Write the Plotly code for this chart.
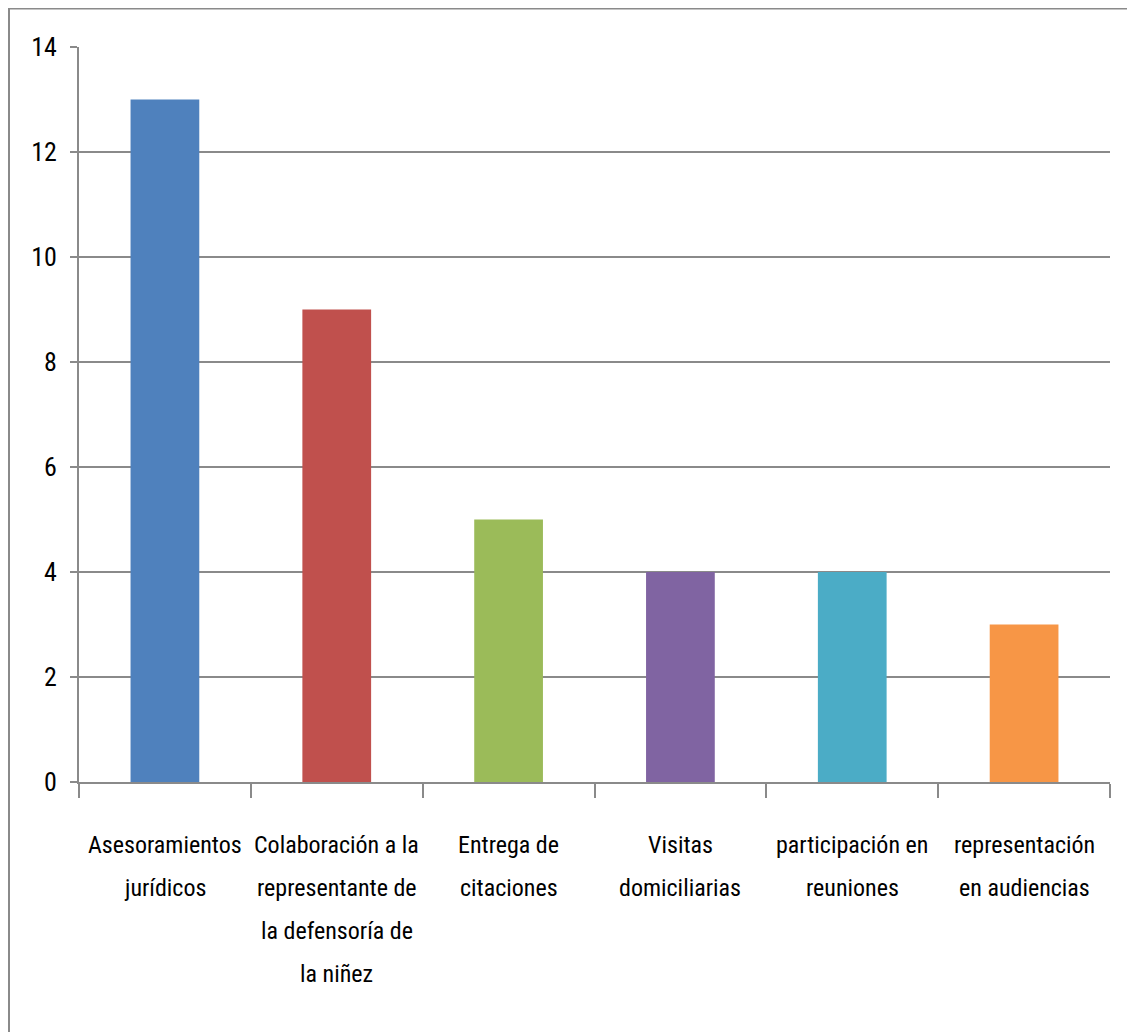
import plotly.graph_objects as go

categories = ["Asesoramientos jurídicos",
              "Colaboración a la representante de la defensoría de la niñez",
              "Entrega de citaciones",
              "Visitas domiciliarias",
              "participación en reuniones",
              "representación en audiencias"]
label_lines = [["Asesoramientos", "jurídicos"],
               ["Colaboración a la", "representante de", "la defensoría de", "la niñez"],
               ["Entrega de", "citaciones"],
               ["Visitas", "domiciliarias"],
               ["participación en", "reuniones"],
               ["representación", "en audiencias"]]
values = [13, 9, 5, 4, 4, 3]
bar_colors = ["#4F81BD", "#C0504D", "#9BBB59", "#8064A2", "#4BACC6", "#F79646"]
y_ticks = [0, 2, 4, 6, 8, 10, 12, 14]

FONT = "Liberation Sans Narrow, Roboto Condensed, DejaVu Sans Condensed, Liberation Sans, sans-serif"
GRAY = "#8a8a8a"

# the page adds an 8px body margin; plot area spans screen x 79..1110, y 47..782
L, T, R, B = 71, 39, 1135 - 1102, 1032 - 774
PW, PH = 1135 - L - R, 1032 - T - B

fig = go.Figure()
fig.add_trace(go.Bar(x=categories, y=values, marker=dict(color=bar_colors, line=dict(width=0)),
                     showlegend=False, hoverinfo="x+y"))

annotations = []
for cat, lines in zip(categories, label_lines):
    for i, line in enumerate(lines):
        annotations.append(dict(x=cat, y=0, xref="x", yref="y", text=line, showarrow=False,
                                xanchor="center", yanchor="middle", yshift=-(63 + 43 * i),
                                font=dict(family=FONT, size=24, color="#000000")))

fig.update_layout(
    width=1135, height=1032,
    margin=dict(l=L, r=R, t=T, b=B),
    paper_bgcolor="white", plot_bgcolor="white",
    bargap=0.6,
    font=dict(family=FONT, color="#000000"),
    annotations=annotations,
    shapes=[dict(type="rect", xref="paper", yref="paper",
                 x0=(1 - L) / PW, x1=(1200 - L) / PW,
                 y0=-(1100 - (T + PH)) / PH, y1=1 + (T - 0.5) / PH,
                 line=dict(color=GRAY, width=2), layer="below")],
    xaxis=dict(showticklabels=False, showline=True, linecolor=GRAY, linewidth=2,
               ticks="outside", tickson="boundaries", ticklen=14, tickcolor=GRAY, tickwidth=2,
               showgrid=False, zeroline=False),
    yaxis=dict(range=[0, 14], tickvals=y_ticks, showline=True, linecolor=GRAY, linewidth=2,
               ticks="outside", ticklen=7, tickcolor=GRAY, tickwidth=2,
               showgrid=True, gridcolor=GRAY, gridwidth=2, zeroline=False,
               tickfont=dict(family=FONT, size=26, color="#000000"), ticklabelstandoff=8),
)

fig.write_html("out.html")
